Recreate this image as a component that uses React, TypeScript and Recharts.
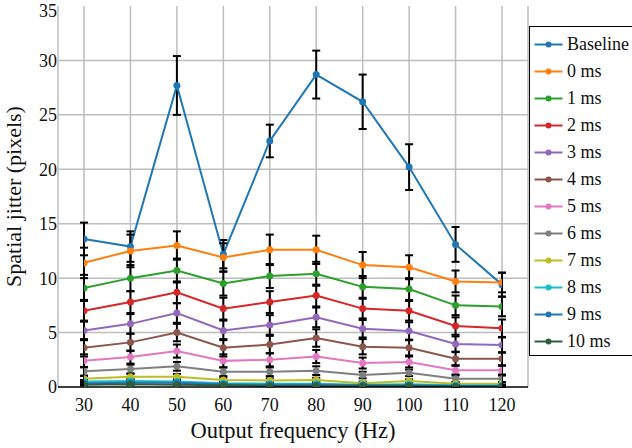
import React from 'react';
import { LineChart, Line, XAxis, YAxis, CartesianGrid, ErrorBar, Legend, Label, ReferenceLine } from 'recharts';

const frequencies = [30, 40, 50, 60, 70, 80, 90, 100, 110, 120];
const yTicks = [0, 5, 10, 15, 20, 25, 30, 35];
const gridValues = [5, 10, 15, 20, 25, 30];

const seriesNames = ['Baseline', '0 ms', '1 ms', '2 ms', '3 ms', '4 ms', '5 ms', '6 ms', '7 ms', '8 ms', '9 ms', '10 ms'];
const seriesColors = ['#1f77b4', '#ff7f0e', '#2ca02c', '#d62728', '#9467bd', '#8c564b', '#e377c2', '#7f7f7f', '#bcbd22', '#17becf', '#1f77b4', '#2e5e3e'];

const baseline = [13.6, 12.9, 27.7, 12.2, 22.6, 28.7, 26.2, 20.2, 13.1, 9.4];
const baselineErr = [1.5, 1.4, 2.7, 1.3, 1.5, 2.2, 2.5, 2.1, 1.6, 1.1];
const ms0 = [11.4, 12.5, 13.0, 11.9, 12.6, 12.6, 11.2, 11.0, 9.7, 9.6];
const ms0Err = [1.4, 1.5, 1.3, 1.3, 1.4, 1.3, 1.2, 1.1, 1.0, 0.9];
const ms1 = [9.1, 10.0, 10.7, 9.5, 10.2, 10.4, 9.2, 9.0, 7.5, 7.4];
const ms1Err = [1.2, 1.2, 1.1, 1.1, 1.1, 1.1, 1.0, 1.0, 0.9, 0.9];
const ms2 = [7.0, 7.8, 8.7, 7.2, 7.8, 8.4, 7.2, 7.0, 5.6, 5.4];
const ms2Err = [1.0, 1.0, 1.0, 1.0, 1.0, 1.0, 0.9, 0.9, 0.8, 0.8];
const ms3 = [5.2, 5.8, 6.8, 5.2, 5.7, 6.4, 5.35, 5.15, 3.95, 3.85];
const ms3Err = [0.9, 0.9, 0.9, 0.9, 0.9, 0.9, 0.8, 0.8, 0.7, 0.7];
const ms4 = [3.6, 4.1, 5.0, 3.6, 3.9, 4.5, 3.7, 3.6, 2.6, 2.6];
const ms4Err = [0.8, 0.8, 0.8, 0.8, 0.8, 0.8, 0.7, 0.7, 0.6, 0.6];
const ms5 = [2.4, 2.75, 3.3, 2.4, 2.5, 2.8, 2.2, 2.3, 1.55, 1.55];
const ms5Err = [0.6, 0.6, 0.6, 0.6, 0.6, 0.6, 0.5, 0.5, 0.4, 0.4];
const ms6 = [1.45, 1.65, 1.9, 1.4, 1.4, 1.5, 1.1, 1.3, 0.75, 0.75];
const ms6Err = [0.4, 0.4, 0.4, 0.4, 0.4, 0.4, 0.3, 0.3, 0.3, 0.3];
const ms7 = [0.75, 0.95, 0.95, 0.65, 0.6, 0.65, 0.35, 0.55, 0.3, 0.3];
const ms7Err = [0.25, 0.25, 0.25, 0.2, 0.2, 0.2, 0.15, 0.15, 0.12, 0.12];
const ms8 = [0.5, 0.55, 0.5, 0.35, 0.3, 0.3, 0.2, 0.25, 0.15, 0.15];
const ms8Err = [0.15, 0.15, 0.15, 0.12, 0.1, 0.1, 0.08, 0.08, 0.06, 0.06];
const ms9 = [0.35, 0.4, 0.4, 0.25, 0.2, 0.2, 0.15, 0.15, 0.1, 0.1];
const ms9Err = [0.1, 0.1, 0.1, 0.08, 0.08, 0.08, 0.06, 0.06, 0.05, 0.05];
const ms10 = [0.2, 0.25, 0.2, 0.15, 0.1, 0.1, 0.1, 0.1, 0.05, 0.05];
const ms10Err = [0.08, 0.08, 0.08, 0.06, 0.05, 0.05, 0.05, 0.05, 0.04, 0.04];

const seriesValues = [baseline, ms0, ms1, ms2, ms3, ms4, ms5, ms6, ms7, ms8, ms9, ms10];
const seriesErrors = [baselineErr, ms0Err, ms1Err, ms2Err, ms3Err, ms4Err, ms5Err, ms6Err, ms7Err, ms8Err, ms9Err, ms10Err];

const data = frequencies.map((f, i) => {
  const row: Record<string, number> = { f };
  seriesValues.forEach((vals, k) => {
    row['s' + k] = vals[i];
    row['e' + k] = seriesErrors[k][i];
  });
  return row;
});

const FONT = 'Liberation Serif';

const renderLegend = () => (
  <div
    style={{
      border: '1.5px solid #000',
      background: '#fff',
      width: 130,
      boxSizing: 'border-box',
      paddingTop: 4,
      paddingBottom: 0,
      fontFamily: FONT,
      fontSize: 18,
      color: '#111',
    }}
  >
    {seriesNames.map((n, k) => (
      <div key={n} style={{ display: 'flex', alignItems: 'center', height: 27 }}>
        <svg width={37} height={27} style={{ flex: 'none' }}>
          <line x1={4.5} x2={32.5} y1={13.5} y2={13.5} stroke={seriesColors[k]} strokeWidth={2} />
          <circle cx={18.5} cy={13.5} r={3} fill={seriesColors[k]} />
        </svg>
        <span style={{ whiteSpace: 'nowrap', lineHeight: '27px', fontFamily: FONT }}>{n}</span>
      </div>
    ))}
  </div>
);

const YTitle = (props: any) => {
  const vb = props.viewBox || { y: 6, height: 381 };
  const cy = vb.y + vb.height / 2;
  return (
    <text
      x={21}
      y={cy}
      transform={`rotate(-90, 21, ${cy})`}
      textAnchor="middle"
      style={{ fontFamily: FONT, fontSize: 22, fill: '#111' }}
    >
      Spatial jitter (pixels)
    </text>
  );
};

export default function App() {
  return (
    <div style={{ position: 'absolute', left: 0, top: 0, width: 632, height: 448, background: '#fff', fontFamily: FONT }}>
      <LineChart
        width={632}
        height={448}
        data={data}
        margin={{ top: 6, right: 104, left: 0, bottom: 0 }}
        style={{ fontFamily: FONT }}
      >
        <CartesianGrid stroke="#bdbdbd" strokeWidth={1.5} horizontal={false} />
        {gridValues.map((v) => (
          <ReferenceLine key={v} y={v} stroke="#bdbdbd" strokeWidth={1.5} />
        ))}
        <XAxis
          dataKey="f"
          type="number"
          domain={[30, 120]}
          ticks={frequencies}
          padding={{ left: 26, right: 26 }}
          height={61}
          tickLine={false}
          tickSize={0}
          tickMargin={11}
          axisLine={{ stroke: '#000', strokeWidth: 1.5 }}
          tick={{ fontSize: 18, fill: '#111', style: { fontFamily: FONT } }}
          allowDataOverflow
        >
          <Label
            value="Output frequency (Hz)"
            position="insideBottom"
            offset={10}
            style={{ fontSize: 22.5, fill: '#111', fontFamily: FONT }}
          />
        </XAxis>
        <YAxis
          type="number"
          domain={[0, 35]}
          ticks={yTicks}
          width={58}
          axisLine={false}
          tickLine={false}
          tickSize={0}
          tickMargin={1}
          tick={{ fontSize: 18, fill: '#111', style: { fontFamily: FONT } }}
          allowDataOverflow
        >
          <Label content={<YTitle />} />
        </YAxis>
        <Legend
          layout="vertical"
          align="center"
          verticalAlign="middle"
          content={renderLegend}
          wrapperStyle={{ left: 529, top: 26, width: 130 }}
        />
        {seriesNames.map((n, k) => (
          <Line
            key={n}
            name={n}
            dataKey={'s' + k}
            stroke={seriesColors[k]}
            strokeWidth={2}
            dot={{ r: 3.5, fill: seriesColors[k], stroke: seriesColors[k], strokeWidth: 0 }}
            isAnimationActive={false}
          >
            <ErrorBar dataKey={'e' + k} direction="y" width={4} stroke="#000" strokeWidth={2} />
          </Line>
        ))}
      </LineChart>
    </div>
  );
}
